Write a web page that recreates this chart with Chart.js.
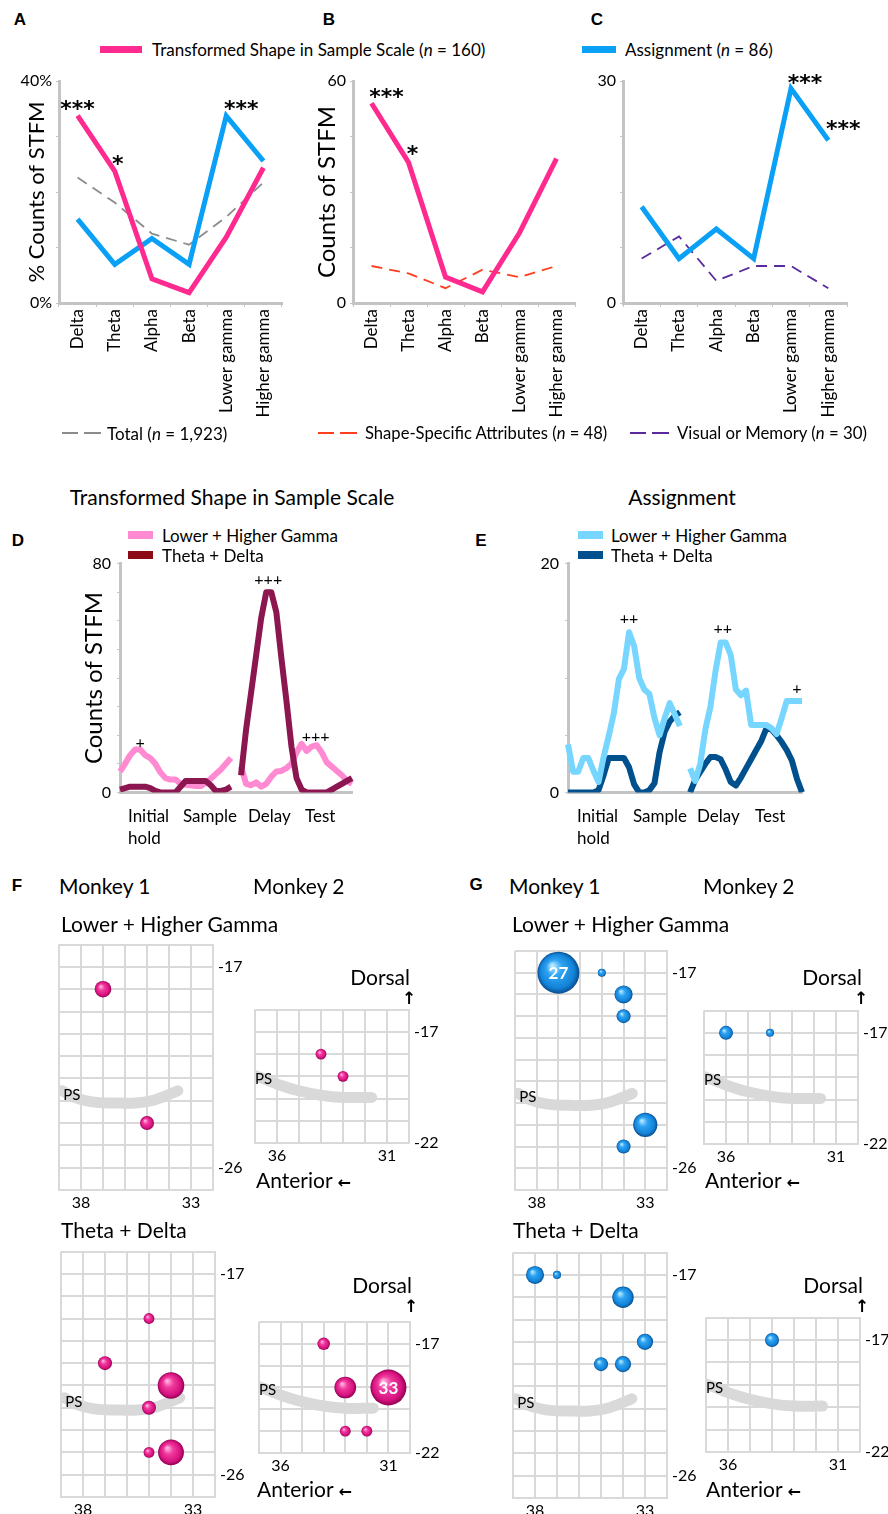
<!DOCTYPE html>
<html>
<head>
<meta charset="utf-8">
<title>STFM counts by band</title>
<script src="https://cdn.jsdelivr.net/npm/chart.js@4.4.1/dist/chart.umd.min.js"></script>
<style>
  body { margin: 0; background: #fff; overflow: hidden; }
  #page { position: relative; width: 888px; height: 1514px; font-family: Lato, sans-serif; color: #000; }
  #page canvas { position: absolute; }
  .t { position: absolute; white-space: nowrap; line-height: 1; }
  .b { position: absolute; }
</style>
</head>
<body>
<div id="page"></div>
<script>
Chart.defaults.font.family = 'Lato, sans-serif';
Chart.defaults.color = '#000';
Chart.defaults.animation = false;
Chart.defaults.responsive = false;
Chart.defaults.plugins.legend.display = false;
Chart.defaults.plugins.tooltip.enabled = false;

// A-C: STFM per frequency band
const bands = ['Delta', 'Theta', 'Alpha', 'Beta', 'Lower gamma', 'Higher gamma'];
const shapeCounts = [54, 38, 7, 3, 19, 39];      // n = 160
const assignCounts = [13, 6, 10, 6, 29, 22];     // n = 86
const shapeSpecCounts = [10, 8, 4, 9, 7, 10];    // n = 48
const visMemCounts = [6, 9, 3, 5, 5, 2];         // n = 30
const totalPct = [22.6, 18.1, 12.5, 10.5, 15.5, 21.7];

// D-E: time bins, hold+sample | delay+test (gap between)
const dGammaEarly = [7.3, 10, 13, 15, 15, 13, 12, 10, 7, 5, 4.5, 4.5, 3, 2.7, 2.5, 2.2, 2.2, 3.3, 4.8, 6.4, 8, 10, 12];
const dGammaLate  = [9, 3, 2.5, 3.5, 2, 3, 5.5, 7.3, 7.5, 8.5, 10, 14, 17, 14.5, 16, 16.5, 14, 10.5, 9, 7.5, 6, 4, 3];
const dThetaEarly = [1, 1.5, 2, 2, 2, 2, 1.5, 0.5, 0, 0, 0, 0, 2, 4, 4, 4, 4, 4, 2.5, 0.5, 0.5, 1, 2];
const dThetaLate  = [6, 22, 35, 48, 61, 70, 70, 63, 47, 32, 16, 5, 1, 0, 0, 0, 0, 0, 1, 2, 3, 4, 5];
const eGammaEarly = [4.2, 1.8, 1.8, 3, 3, 1.9, 0.9, 3.1, 4.9, 6.9, 9.9, 10.8, 14, 12.8, 10, 9, 8.6, 6.5, 5, 6.5, 7.8, 6.8, 5.8];
const eGammaLate  = [2.1, 1, 2.5, 5.5, 7.5, 10.6, 13.1, 13.1, 12, 9, 8.5, 8.9, 5.9, 5.9, 5.9, 5.9, 5.6, 5.1, 6.5, 8, 8, 8, 8];
const eThetaEarly = [0, 0, 0, 0, 0, 0, 0.2, 1.5, 3, 3, 3, 3, 2.2, 0.7, 0, 0, 0.2, 0.8, 3.5, 5.3, 6.2, 6.7, 7];
const eThetaLate  = [0, 1.1, 1.8, 2.5, 3.1, 3.1, 2.9, 2, 0.9, 0.6, 1.3, 2.1, 2.9, 3.7, 4.5, 5.6, 5.5, 5, 4.4, 3.7, 2.8, 1.2, 0];

// F-G: [anterior mm, dorsal mm, count]
const fM1Gamma = [[37, -18, 7], [35, -24, 5]];
const fM2Gamma = [[34, -18, 3], [33, -19, 3]];
const fM1Theta = [[35, -19, 3], [37, -21, 5], [34, -22, 18], [35, -23, 5], [35, -25, 3], [34, -25, 17]];
const fM2Theta = [[34, -17, 4], [33, -19, 12], [31, -19, 33], [33, -21, 3], [32, -21, 3]];
const gM1Gamma = [[37, -17, 27], [35, -17, 1], [34, -18, 5], [34, -19, 3], [33, -24, 9], [34, -25, 3]];
const gM2Gamma = [[36, -17, 3], [34, -17, 1]];
const gM1Theta = [[38, -17, 5], [37, -17, 1], [34, -18, 7], [33, -20, 4], [35, -21, 3], [34, -21, 4]];
const gM2Theta = [[34, -17, 3]];
// principal sulcus outline
const psM1 = [[38.85, -22.55], [38.3, -22.85], [37.5, -23.05], [36.5, -23.1], [35.5, -23.1], [34.8, -23.0], [34.2, -22.8], [33.6, -22.55]];
const psM2 = [[37.05, -18.95], [36.5, -19.15], [36, -19.35], [35, -19.65], [34, -19.85], [33, -19.95], [31.7, -19.95]];

const pink = '#ff2a8f', blue = '#0aa0f5';
const axisGray = '#c4c4c4', gridGray = '#d9d9d9';
const bins = Array.from({ length: 47 }, (_, i) => i);
const page = document.getElementById('page');

function canvas(x, y, w, h) {
  const c = document.createElement('canvas');
  c.width = w; c.height = h;
  c.style.left = x + 'px'; c.style.top = y + 'px';
  page.appendChild(c);
  return c;
}
function txt(html, x, y, size, align, css) {
  const d = document.createElement('div');
  d.className = 't';
  d.innerHTML = html;
  const tx = align === 'center' ? '-50%' : align === 'right' ? '-100%' : '0';
  d.style.cssText = `left:${x}px;top:${y}px;font-size:${size}px;transform:translate(${tx},-50%);` + (css || '');
  page.appendChild(d);
}
function bar(x, y, w, h, color) {
  const d = document.createElement('div');
  d.className = 'b';
  d.style.cssText = `left:${x}px;top:${y}px;width:${w}px;height:${h}px;background:${color}`;
  page.appendChild(d);
}
function dash(x, y, color) { bar(x, y - 1, 16, 2, color); bar(x + 22, y - 1, 17, 2, color); }

const marks = {
  id: 'marks',
  afterDatasetsDraw(chart, args, opts) {
    const ctx = chart.ctx;
    ctx.save();
    ctx.fillStyle = '#000';
    ctx.textAlign = 'center';
    ctx.textBaseline = 'alphabetic';
    ctx.font = opts.font;
    (opts.items || []).forEach(([ds, i, text, dx, dy]) => {
      const el = chart.getDatasetMeta(ds).data[i];
      ctx.fillText(text, el.x + dx, el.y + dy);
    });
    ctx.restore();
  }
};

const solid = (data, color) => ({ data, borderColor: color, borderWidth: 5, pointRadius: 0 });
const dashed = (data, color) => ({ data, borderColor: color, borderWidth: 1.8, borderDash: [11, 7], pointRadius: 0 });
const trace = (early, late, color) => ({ data: [...early, null, ...late], borderColor: color, borderWidth: 6,
  borderJoinStyle: 'round', pointRadius: 0 });

function bandChart(left, width, axisW, padR, yMax, unit, title, titleSize, datasets, items) {
  return new Chart(canvas(left, 60, width, 370), {
    type: 'line',
    data: { labels: bands, datasets },
    options: {
      layout: { padding: { left: 0, right: padR, top: 21, bottom: 0 } },
      scales: {
        x: {
          offset: true,
          grid: { offset: true, drawOnChartArea: false, tickLength: 4, color: axisGray },
          border: { color: axisGray, width: 3 },
          ticks: { autoSkip: false, minRotation: 90, maxRotation: 90, padding: 2, font: { size: 17 } },
          afterFit: s => { s.height = 127; }
        },
        y: {
          min: 0, max: yMax,
          grid: { drawOnChartArea: false, tickLength: 3, color: axisGray },
          border: { color: axisGray, width: 3 },
          ticks: { stepSize: yMax / 4, autoSkip: false, padding: 4, font: { size: 16 },
                   callback: v => (v === 0 || v === yMax) ? v + unit : '' },
          title: { display: !!title, text: title, font: { size: titleSize }, padding: { top: 37 - titleSize * 0.6, bottom: 0 } },
          afterFit: s => { s.width = axisW; }
        }
      },
      plugins: { marks: { font: 'bold 22px "DejaVu Sans"', items } }
    },
    plugins: [marks]
  });
}

function epochChart(left, padT, padR, yMax, step, title, datasets, items) {
  return new Chart(canvas(left, 548, 300, 260), {
    type: 'line',
    data: { labels: bins, datasets },
    options: {
      layout: { padding: { left: 0, right: padR, top: padT, bottom: 0 } },
      scales: {
        x: { grid: { display: false }, ticks: { display: false }, border: { color: axisGray, width: 3 },
             afterFit: s => { s.height = 15; } },
        y: {
          min: 0, max: yMax,
          grid: { drawOnChartArea: false, tickLength: 3, color: axisGray },
          border: { color: axisGray, width: 3 },
          ticks: { stepSize: step, autoSkip: false, padding: 6, font: { size: 16 },
                   callback: v => (v === 0 || v === yMax) ? v : '' },
          title: { display: !!title, text: title, font: { size: 24 }, padding: { top: 20, bottom: 0 } },
          afterFit: s => { s.width = 60; }
        }
      },
      plugins: { marks: { font: '16px Lato', items } }
    },
    plugins: [marks]
  });
}

// shaded sphere fill for the bubbles
function sphere(pal) {
  return c => {
    if (!c.raw) return pal[2];
    const { x: sx, y: sy } = c.chart.scales;
    const cx = sx.getPixelForValue(c.raw.x), cy = sy.getPixelForValue(c.raw.y), r = c.raw.r;
    if (!isFinite(cx) || !isFinite(cy) || !isFinite(r)) return pal[2];
    const g = c.chart.ctx.createRadialGradient(cx - r * 0.3, cy - r * 0.35, r * 0.05, cx, cy, r);
    g.addColorStop(0, pal[0]);
    g.addColorStop(0.35, pal[1]);
    g.addColorStop(0.8, pal[2]);
    g.addColorStop(1, pal[3]);
    return g;
  };
}

const mapText = {
  id: 'mapText',
  afterDatasetsDraw(chart, args, opts) {
    const ctx = chart.ctx, { x: sx, y: sy } = chart.scales;
    ctx.save();
    const p = opts.ps[0];
    ctx.font = '15px Lato';
    ctx.fillStyle = '#000';
    ctx.textBaseline = 'middle';
    ctx.textAlign = 'left';
    ctx.fillText('PS', sx.getPixelForValue(p[0]) + 1, sy.getPixelForValue(p[1]) + 4);
    ctx.font = 'bold 17px Lato';
    ctx.fillStyle = '#fff';
    ctx.textAlign = 'center';
    chart.data.datasets[0].data.forEach(d => {
      if (d.n >= 20) ctx.fillText(d.n, sx.getPixelForValue(d.x), sy.getPixelForValue(d.y) + 1);
    });
    ctx.restore();
  }
};

function mapChart(m) {
  const w = m.padL + 154 + m.axisW;
  const axis = (extra) => Object.assign({
    type: 'linear',
    grid: { color: gridGray, lineWidth: 2, drawTicks: false },
    border: { color: gridGray, width: 2 }
  }, extra);
  return new Chart(canvas(m.left, m.top, w, m.padT + m.gridH + m.axisH), {
    type: 'bubble',
    data: {
      datasets: [
        { data: m.pts.map(([x, y, n]) => ({ x, y, n, r: m.k * Math.sqrt(n) })),
          backgroundColor: sphere(m.pal), borderWidth: 0, clip: false, order: 0 },
        { type: 'line', data: m.ps.map(([x, y]) => ({ x, y })), borderColor: gridGray, borderWidth: 11,
          borderCapStyle: 'round', tension: 0.4, pointRadius: 0, order: 1 }
      ]
    },
    options: {
      layout: { padding: { left: m.padL, top: m.padT, right: 0, bottom: 0 } },
      scales: {
        x: axis({ min: m.xMax - 7, max: m.xMax, reverse: true,
          ticks: { stepSize: 1, autoSkip: false, maxRotation: 0, padding: 3, font: { size: 16 },
                   callback: v => m.xLab.includes(v) ? v : '' },
          afterFit: s => { s.height = m.axisH; } }),
        y: axis({ position: 'right', min: m.yMin, max: -16,
          ticks: { stepSize: 1, autoSkip: false, padding: 5, font: { size: 16 },
                   callback: v => m.yLab.includes(v) ? v : '' },
          afterFit: s => { s.width = m.axisW; } })
      },
      plugins: { mapText: { ps: m.ps } }
    },
    plugins: [mapText]
  });
}

// ---- A, B, C
bandChart(0, 290, 59, 8, 40, '%', '% Counts of STFM', 22, [
  solid(shapeCounts.map(v => v / 160 * 100), pink),
  solid(assignCounts.map(v => v / 86 * 100), blue),
  dashed(totalPct, '#8c8c8c')
], [[0, 0, '***', 0, 0], [0, 1, '*', 3, 0], [1, 4, '***', 15, 0]]);

bandChart(290, 298, 63, 13, 60, '', 'Counts of STFM', 24, [
  solid(shapeCounts, pink),
  dashed(shapeSpecCounts, '#ff3d1f')
], [[0, 0, '***', 15, 1], [0, 1, '*', 4, -1]]);

bandChart(590, 298, 33, 41, 30, '', '', 22, [
  solid(assignCounts, blue),
  dashed(visMemCounts, '#5a2a9c')
], [[0, 4, '***', 14, 2], [0, 5, '***', 15, -4]]);

// ---- D, E
epochChart(60, 13, 8, 80, 10, 'Counts of STFM', [
  trace(dThetaEarly, dThetaLate, '#8b1650'),
  trace(dGammaEarly, dGammaLate, '#ff8ad2')
], [[1, 4, '+', 0, -2], [0, 29, '+++', 2, -7], [1, 38, '+++', 4, -5]]);

epochChart(508, 14, 6, 20, 5, '', [
  trace(eGammaEarly, eGammaLate, '#76d6ff'),
  trace(eThetaEarly, eThetaLate, '#00508e')
], [[0, 12, '++', 0, -8], [0, 31, '++', -3, -9], [0, 46, '+', -5, -7]]);

// ---- F, G
const pinkBall = ['#ffb3e1', '#f23a9f', '#d5117d', '#8e0052'];
const blueBall = ['#b5e8ff', '#2ea3f2', '#1283d8', '#0a4c8c'];
const m1 = { xMax: 39, yMin: -27, xLab: [38, 33], yLab: [-17, -26], padL: 19, padT: 12, gridH: 248, ps: psM1 };
const m2 = { xMax: 37, yMin: -22, xLab: [36, 31], yLab: [-17, -22], padL: 15, padT: 14, ps: psM2 };
const kF = 3.13, kG = 4.04;

mapChart(Object.assign({}, m1, { left: 40, top: 930, axisW: 45, axisH: 24, pts: fM1Gamma, k: kF, pal: pinkBall }));
mapChart(Object.assign({}, m2, { left: 240, top: 995, gridH: 134, axisW: 45, axisH: 24, pts: fM2Gamma, k: kF, pal: pinkBall }));
mapChart(Object.assign({}, m1, { left: 42, top: 1237, axisW: 45, axisH: 17, pts: fM1Theta, k: kF, pal: pinkBall }));
mapChart(Object.assign({}, m2, { left: 241, top: 1304, gridH: 135, axisW: 45, axisH: 24, pts: fM2Theta, k: kF, pal: pinkBall }));
mapChart(Object.assign({}, m1, { left: 494, top: 930, axisW: 45, axisH: 24, pts: gM1Gamma, k: kG, pal: blueBall }));
mapChart(Object.assign({}, m2, { left: 689, top: 996, gridH: 134, axisW: 30, axisH: 24, pts: gM2Gamma, k: kG, pal: blueBall }));
mapChart(Object.assign({}, m1, { left: 494, top: 1238, axisW: 45, axisH: 16, pts: gM1Theta, k: kG, pal: blueBall }));
mapChart(Object.assign({}, m2, { left: 691, top: 1303, gridH: 135, axisW: 28, axisH: 24, pts: gM2Theta, k: kG, pal: blueBall }));

// ---- text and legends
const letter = 'font-family:"Liberation Sans",Arial,sans-serif;font-weight:bold';
txt('A', 20, 19, 17, 'center', letter);
txt('B', 329, 19, 17, 'center', letter);
txt('C', 597, 19, 17, 'center', letter);
txt('D', 18, 540, 17, 'center', letter);
txt('E', 481, 540, 17, 'center', letter);
txt('F', 17, 885, 17, 'center', letter);
txt('G', 476, 884, 17, 'center', letter);

bar(100, 46, 42, 7, pink);
txt('Transformed Shape in Sample Scale (<i>n</i> = 160)', 152, 49, 17);
bar(582, 46, 34, 7, blue);
txt('Assignment (<i>n</i> = 86)', 625, 49, 17);

dash(62, 433, '#8c8c8c');
txt('Total (<i>n</i> = 1,923)', 107, 433, 17);
dash(318, 433, '#ff3d1f');
txt('Shape-Specific Attributes (<i>n</i> = 48)', 365, 433, 16.6);
dash(630, 433, '#5a2a9c');
txt('Visual or Memory (<i>n</i> = 30)', 677, 433, 16.8);

txt('Transformed Shape in Sample Scale', 232, 496, 21, 'center');
txt('Assignment', 682, 496, 21, 'center');

bar(128, 531, 25, 8, '#ff8ad2');
txt('Lower + Higher Gamma', 162, 535, 17);
bar(128, 551, 25, 8, '#8c0a16');
txt('Theta + Delta', 162, 555, 17);
bar(578, 531, 25, 8, '#76d6ff');
txt('Lower + Higher Gamma', 611, 535, 17);
bar(578, 551, 25, 8, '#00508e');
txt('Theta + Delta', 611, 555, 17);

[[128, 183, 248, 305], [577, 633, 697, 755]].forEach(([a, b, c, d]) => {
  txt('Initial', a, 815, 17);
  txt('hold', a, 837, 17);
  txt('Sample', b, 815, 17);
  txt('Delay', c, 815, 17);
  txt('Test', d, 815, 17);
});

txt('Monkey 1', 59, 885, 21);
txt('Monkey 2', 253, 885, 21);
txt('Monkey 1', 509, 885, 21);
txt('Monkey 2', 703, 885, 21);
txt('Lower + Higher Gamma', 61, 923, 21);
txt('Lower + Higher Gamma', 512, 923, 21);
txt('Theta + Delta', 61, 1229, 21);
txt('Theta + Delta', 513, 1229, 21);

const arrow = 'font-family:"DejaVu Sans",sans-serif;font-weight:bold';
[[410, 976, 256, 1180], [412, 1284, 257, 1489], [862, 976, 705, 1180], [863, 1284, 706, 1489]].forEach(([dx, dy, ax, ay]) => {
  txt('Dorsal', dx, dy, 21, 'right');
  txt('&#8593;', dx - 1, dy + 22, 17, 'center', arrow);
  txt('Anterior <span style="font-family:\'DejaVu Sans\';font-weight:bold;font-size:16px">&#8592;</span>', ax, ay, 21);
});
</script>
</body>
</html>
